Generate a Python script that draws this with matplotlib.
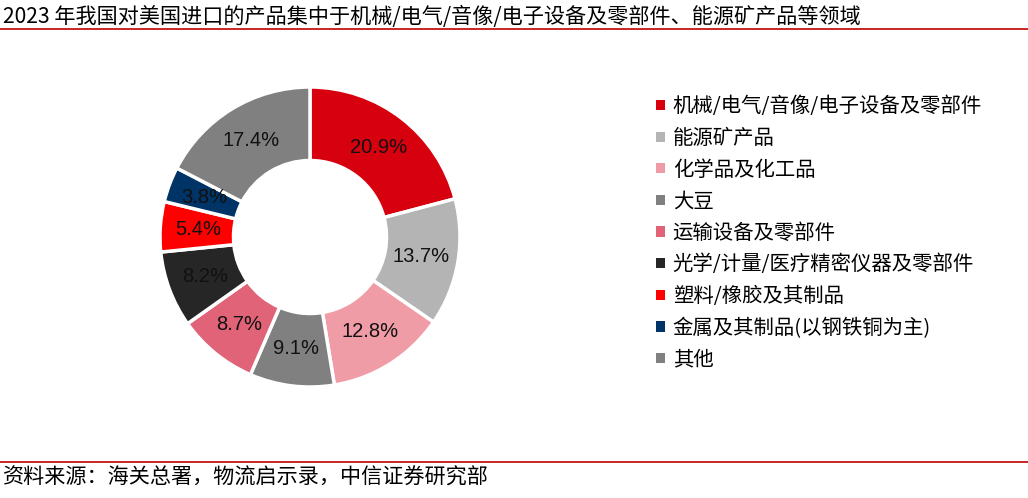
import matplotlib
matplotlib.use("Agg")
from matplotlib import pyplot as plt
from matplotlib.patches import Patch

plt.rcParams['font.family'] = ['Liberation Sans', 'Noto Sans CJK SC', 'DejaVu Sans']

# data
labels = ['机械/电气/音像/电子设备及零部件', '能源矿产品', '化学品及化工品', '大豆',
          '运输设备及零部件', '光学/计量/医疗精密仪器及零部件', '塑料/橡胶及其制品',
          '金属及其制品(以钢铁铜为主)', '其他']
shares = [20.9, 13.7, 12.8, 9.1, 8.7, 8.2, 5.4, 3.8, 17.4]
colors = ['#D7000F', '#B4B4B4', '#F09CA6', '#808080', '#E06377', '#262626',
          '#FF0000', '#003366', '#808080']

title = '2023 年我国对美国进口的产品集中于机械/电气/音像/电子设备及零部件、能源矿产品等领域'
source = '资料来源：海关总署，物流启示录，中信证券研究部'

W, H = 1028, 498
fig = plt.figure(figsize=(W / 100, H / 100), dpi=100)

ax = fig.add_axes([160 / W, 111 / H, 300 / W, 300 / H])
wedges, texts, autotexts = ax.pie(
    shares, colors=colors, startangle=90, counterclock=False,
    autopct='%.1f%%', pctdistance=0.75,
    wedgeprops=dict(width=0.49, edgecolor='white', linewidth=2.5),
    textprops=dict(fontsize=14.5, color='#111111'))
ax.set_xlim(-1, 1)
ax.set_ylim(-1, 1)
ax.set_aspect('equal')

handles = [Patch(facecolor=c, edgecolor='none') for c in colors]
leg = fig.legend(handles, labels, loc='upper left', bbox_to_anchor=(638 / W, 1 - 78 / H),
                 frameon=False, handlelength=0.4, handleheight=0.4,
                 handletextpad=0.4, labelspacing=0.52,
                 prop={'family': ['Noto Sans CJK SC', 'DejaVu Sans'], 'size': 14.7})

fig.text(3 / W, 1 - 17 / H, title, fontsize=15.2, va='center', ha='left',
         family=['Noto Sans CJK SC', 'DejaVu Sans'])
fig.add_artist(plt.Line2D([0, 1], [1 - 29.5 / H, 1 - 29.5 / H], color='#C00000', lw=1.2))
fig.add_artist(plt.Line2D([0, 1], [1 - 462 / H, 1 - 462 / H], color='#C00000', lw=1.2))
fig.text(3 / W, 1 - 478 / H, source, fontsize=15.2, va='center', ha='left',
         family=['Noto Sans CJK SC', 'DejaVu Sans'])

fig.savefig('out.png', dpi=100)
